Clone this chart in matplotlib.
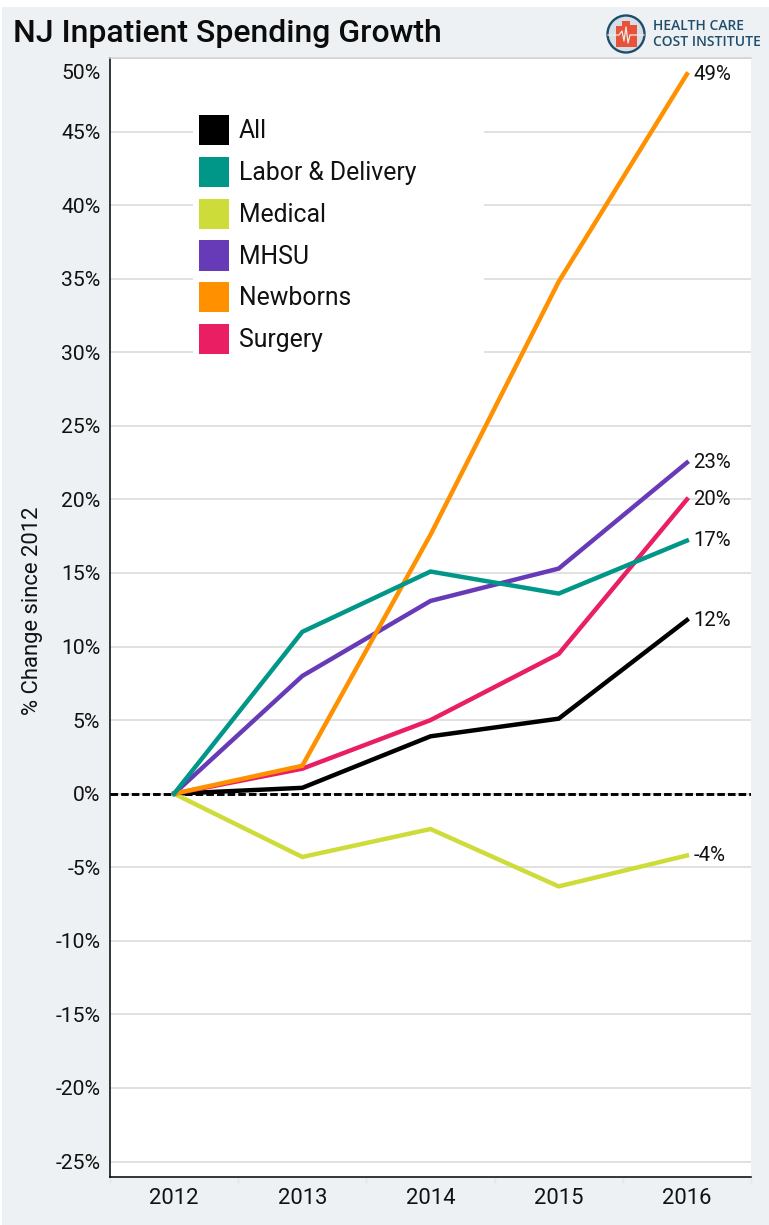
import matplotlib
matplotlib.use("Agg")
import matplotlib.pyplot as plt
from matplotlib.patches import Patch, Rectangle, Circle

W, H = 769, 1225

years = ["2012", "2013", "2014", "2015", "2016"]
all_vals = [0, 0.4, 3.9, 5.1, 11.8]
labor = [0, 11.0, 15.1, 13.6, 17.2]
medical = [0, -4.3, -2.4, -6.3, -4.2]
mhsu = [0, 8.0, 13.1, 15.3, 22.5]
newborns = [0, 1.9, 17.6, 34.8, 48.9]
surgery = [0, 1.7, 5.0, 9.5, 20.0]
y_ticks = list(range(-25, 51, 5))

legend_names = ["All", "Labor & Delivery", "Medical", "MHSU", "Newborns", "Surgery"]
legend_colors = ["#000000", "#009688", "#cddc39", "#673ab7", "#ff9100", "#e91e63"]

# draw order, last one on top
series = [
    (all_vals, "#000000", "12%"),
    (medical, "#cddc39", "-4%"),
    (mhsu, "#673ab7", "23%"),
    (surgery, "#e91e63", "20%"),
    (newborns, "#ff9100", "49%"),
    (labor, "#009688", "17%"),
]

plt.rcParams["font.family"] = ["Roboto", "DejaVu Sans"]

fig = plt.figure(figsize=(W / 100, H / 100), dpi=100, facecolor="white")

# background layer in pixel coordinates
bg = fig.add_axes([0, 0, 1, 1], zorder=-1)
bg.set_xlim(0, W)
bg.set_ylim(H, 0)
bg.axis("off")
bg.add_patch(Rectangle((2, 7), W - 2, H - 7, color="#edf1f4", lw=0))

left, right, top, bottom = 110, 751, 58, 1177
ax = fig.add_axes([left / W, 1 - bottom / H, (right - left) / W, (bottom - top) / H])
ax.set_xlim(-0.5, 4.5)
ax.set_ylim(-26.05, 50)

ax.set_yticks(y_ticks)
ax.set_yticklabels([f"{t}%" if t != 50 else "" for t in y_ticks], fontsize=15.2, color="#111111")
ax.set_xticks(range(5))
ax.set_xticklabels(years, fontsize=15.8, color="#111111")
ax.set_xticks([i - 0.5 for i in range(6)], minor=True)
ax.tick_params(axis="y", length=0, pad=7)
ax.tick_params(axis="x", which="major", length=0, pad=8)
ax.tick_params(axis="x", which="minor", length=4, color="#e6e6e6", width=1)
ax.grid(axis="y", color="#d9d9d9", linewidth=1.1, zorder=0)
ax.set_axisbelow(True)

for side in ["left", "bottom"]:
    ax.spines[side].set_color("black")
    ax.spines[side].set_linewidth(1.1)
ax.spines["top"].set_color("#d0d3d6")
ax.spines["top"].set_linewidth(1.1)
ax.spines["right"].set_visible(False)

# the top label sits below its gridline in the original
ax.annotate("50%", xy=(0, 50), xycoords=ax.get_yaxis_transform(), xytext=(-7, -11),
            textcoords="offset points", ha="right", va="center", fontsize=15.2,
            color="#111111", annotation_clip=False)

ax.axhline(0, color="black", linewidth=2.1, linestyle=(0, (2.6, 1.05)), zorder=2)

for vals, col, end_label in series:
    ax.plot(range(5), vals, color=col, linewidth=3.2, solid_joinstyle="miter", zorder=3)
    ax.annotate(end_label, xy=(4, vals[-1]), xytext=(4.5, 0), textcoords="offset points",
                ha="left", va="center", fontsize=14.7, color="#111111", zorder=4)

ax.set_ylabel("% Change since 2012", fontsize=15.8, color="#111111")
ax.yaxis.set_label_coords((43 - left) / (right - left), 1 - (611 - top) / (bottom - top))

# white block behind the legend, wider than the legend text
ax.add_patch(Rectangle((193, 108), 291, 248, transform=bg.transData, facecolor="white",
                       edgecolor="none", zorder=1.5))

handles = [Patch(facecolor=c, edgecolor="none") for c in legend_colors]
leg = ax.legend(handles, legend_names, loc="upper left",
                bbox_to_anchor=((199 - left) / (right - left), 1 - (115 - top) / (bottom - top)),
                borderaxespad=0, fontsize=17.8, frameon=False, handlelength=1.215, handleheight=1.5,
                handletextpad=0.4, labelspacing=0.47, borderpad=0)
leg.set_zorder(2.5)
for t in leg.get_texts():
    t.set_color("#111111")

# title and logo, pixel coordinates again
over = fig.add_axes([0, 0, 1, 1], zorder=5)
over.set_xlim(0, W)
over.set_ylim(H, 0)
over.axis("off")
over.patch.set_alpha(0)
over.text(13, 33, "NJ Inpatient Spending Growth", fontsize=23, fontweight="medium",
          color="#0c0c0c", va="center", ha="left")

logo_blue = "#1f4e6b"
over.add_patch(Circle((626, 34), 18.5, facecolor="#d6dee6", edgecolor=logo_blue, lw=1.7))
bar_x = [616, 622, 630]
bar_top = [26, 21, 25]
bar_w = [6, 8, 7]
for bx, bt, bw in zip(bar_x, bar_top, bar_w):
    over.add_patch(Rectangle((bx, bt), bw, 47 - bt, color="#e8523a", lw=0))
pulse_x = [608, 619, 622, 624, 626, 628, 630, 644]
pulse_y = [35, 35, 31, 41, 27, 43, 35, 35]
over.plot(pulse_x, pulse_y, color="#f4ece6", lw=0.9)
over.text(653, 26.5, "HEALTH CARE", fontsize=10, fontweight="semibold", family="Open Sans",
          color=logo_blue, va="center", ha="left")
over.text(653, 41.5, "COST INSTITUTE", fontsize=10, fontweight="semibold", family="Open Sans",
          color=logo_blue, va="center", ha="left")

fig.savefig("out.png", dpi=100, facecolor="white")
